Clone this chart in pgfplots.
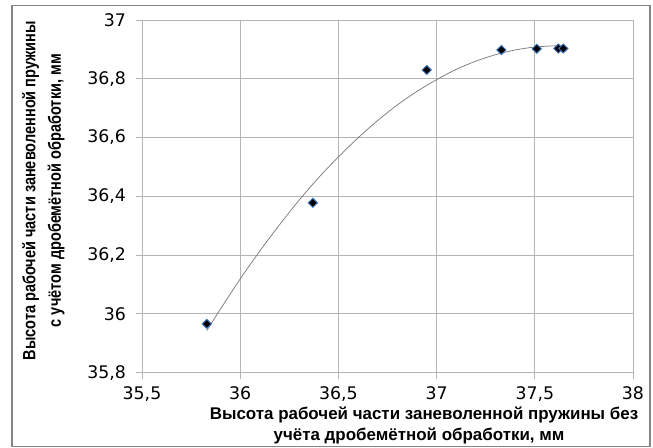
\documentclass[border=0pt]{standalone}
\usepackage{fontspec}
\setmainfont{DejaVu Sans}
\newfontfamily\xlabfont{Liberation Sans}
\newfontfamily\ylabfont[FakeStretch=0.82]{Liberation Sans}
\usepackage{pgfplots}
\pgfplotsset{compat=1.18}
\definecolor{gridgray}{HTML}{B4B4B4}
\definecolor{framegray}{HTML}{858585}
\definecolor{markblue}{HTML}{3C72B8}
\definecolor{trendgray}{HTML}{7A7A7A}
\begin{document}
\begin{tikzpicture}
\useasboundingbox (-106.5pt,-56.25pt) rectangle (383.25pt,279.5pt);
\draw[framegray, line width=0.8pt] (-97.5pt,-55.6pt) rectangle (381pt,275.2pt);
\begin{axis}[
  at={(0pt,0pt)}, anchor=south west,
  scale only axis, width=368.25pt, height=264.5pt,
  xmin=35.5, xmax=38, ymin=35.8, ymax=37,
  xtick={35.5,36,36.5,37,37.5,38},
  ytick={35.8,36,36.2,36.4,36.6,36.8,37},
  grid=major,
  major grid style={gridgray, line width=0.6pt},
  axis line style={gridgray, line width=0.6pt},
  tick style={gridgray, line width=0.6pt},
  tick align=outside, major tick length=4.5pt,
  xtick pos=bottom, ytick pos=left,
  /pgf/number format/use comma,
  /pgf/number format/1000 sep={},
  /pgf/number format/assume math mode=true,
  ticklabel style={font=\fontsize{13}{15}\selectfont, text=black},
  yticklabel style={xshift=-4pt},
  xticklabel style={yshift=-2.5pt},
  clip=false,
]
% trend line (2nd order polynomial trend)
\addplot[trendgray, line width=0.55pt, no marks, smooth] coordinates {
(35.83,35.943) (35.9,36.017) (36.0,36.119) (36.1,36.214) (36.2,36.303)
(36.3,36.387) (36.4,36.464) (36.5,36.534) (36.6,36.599) (36.7,36.658)
(36.8,36.711) (36.9,36.757) (37.0,36.797) (37.1,36.832) (37.2,36.860)
(37.3,36.882) (37.4,36.898) (37.5,36.908) (37.6,36.912) (37.64,36.911)
};
\addplot[only marks, mark=diamond*, mark size=3.4pt,
  mark options={fill=black, draw=markblue, line width=0.7pt, xscale=1.35}] coordinates {
(35.83,35.966) (36.37,36.378) (36.95,36.830) (37.33,36.898)
(37.51,36.902) (37.62,36.903) (37.645,36.903)
};
\end{axis}
\node[rotate=90, anchor=center] at (-83.5pt,136.5pt) {\ylabfont\bfseries\fontsize{13.3}{15}\selectfont Высота рабочей части заневоленной пружины};
\node[rotate=90, anchor=center] at (-64.5pt,136.5pt) {\ylabfont\bfseries\fontsize{13.3}{15}\selectfont с учётом дробемётной обработки, мм};
\node[anchor=base, inner sep=0pt] at (211.5pt,-35.25pt) {\xlabfont\bfseries\fontsize{12.7}{15}\selectfont Высота рабочей части заневоленной пружины без};
\node[anchor=base, inner sep=0pt] at (207.75pt,-51.2pt) {\xlabfont\bfseries\fontsize{12.7}{15}\selectfont учёта дробемётной обработки, мм};
\end{tikzpicture}
\end{document}
